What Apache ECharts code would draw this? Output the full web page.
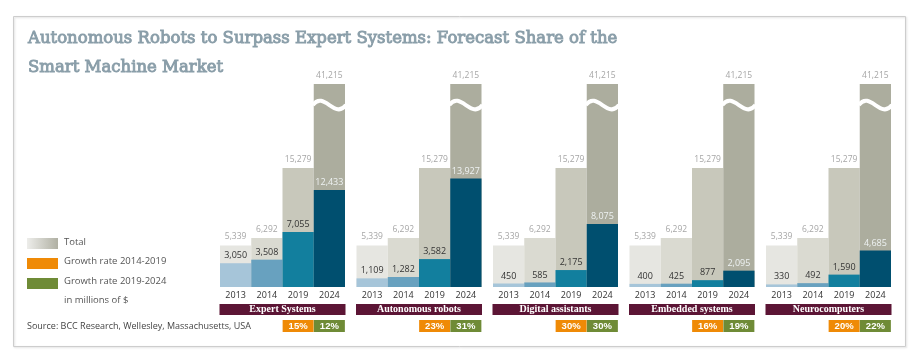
<!DOCTYPE html>
<html><head><meta charset="utf-8">
<script src="https://cdn.jsdelivr.net/npm/echarts@6/dist/echarts.min.js"></script>
<style>html,body{margin:0;padding:0;background:#fff}#c{width:916px;height:361px}</style>
</head><body><div id="c"></div><script>
// ---- data ----
const years = ['2013', '2014', '2019', '2024'];
const segments = ['Expert Systems', 'Autonomous robots', 'Digital assistants', 'Embedded systems', 'Neurocomputers'];
const totalMarket = [5339, 6292, 15279, 41215];
const expertSystems = [3050, 3508, 7055, 12433];
const autonomousRobots = [1109, 1282, 3582, 13927];
const digitalAssistants = [450, 585, 2175, 8075];
const embeddedSystems = [400, 425, 877, 2095];
const neurocomputers = [330, 492, 1590, 4685];
const growth2014_2019 = [15, 23, 30, 16, 20];
const growth2019_2024 = [12, 31, 30, 19, 22];
const axisBreak = [22700, 39165];

// ---- style ----
const segmentValues = [expertSystems, autonomousRobots, digitalAssistants, embeddedSystems, neurocomputers];
const totalColors = ['#e6e6e1', '#dadad1', '#c8c8bb', '#acad9e'];
const innerColors = ['#a6c5d9', '#68a1bf', '#127f9e', '#004f6f'];
const innerLabelColors = ['#333', '#333', '#333', '#eef2f2'];
const gridLefts = [220, 356.5, 493, 629.5, 766];
const fontSans = '"Open Sans", "Noto Sans", sans-serif';
const fmt = v => v.toLocaleString('en-US');

const grid = [], xAxis = [], yAxis = [], series = [];
segments.forEach((seg, i) => {
  grid.push({left: gridLefts[i], width: 125, top: 84, bottom: 74});
  xAxis.push({
    gridIndex: i, type: 'category', data: years,
    axisLine: {show: false}, axisTick: {show: false},
    axisLabel: {interval: 0, margin: 4, fontSize: 9, color: '#333', fontFamily: fontSans},
    name: '{h|' + seg + '}', nameLocation: 'middle', nameGap: 17, nameMoveOverlap: false,
    nameTextStyle: {rich: {h: {color: '#fff', fontFamily: '"Liberation Serif", serif', fontWeight: 'bold', fontSize: 10,
      backgroundColor: '#5c1535', width: 126, height: 11, lineHeight: 11, align: 'center', padding: 0}}}
  });
  yAxis.push({
    gridIndex: i, type: 'value', min: 0, max: 'dataMax', show: false,
    splitLine: {show: false},
    breaks: [{start: axisBreak[0], end: axisBreak[1], gap: '5%'}],
    breakArea: {show: false}
  });
  series.push({
    type: 'bar', xAxisIndex: i, yAxisIndex: i, barCategoryGap: '0%', barGap: '-100%',
    data: totalMarket.map((v, j) => ({value: v, itemStyle: {color: totalColors[j]}})),
    label: {show: true, position: 'top', distance: 4, color: '#a6a6a6', fontSize: 8.5, fontFamily: fontSans, formatter: p => fmt(p.value)}
  });
  series.push({
    type: 'bar', xAxisIndex: i, yAxisIndex: i, barCategoryGap: '0%', barGap: '-100%',
    data: segmentValues[i].map((v, j) => ({value: v, itemStyle: {color: innerColors[j]},
      label: {color: innerLabelColors[j]}})),
    label: {show: true, position: 'top', distance: 3, fontSize: 9, fontFamily: fontSans, formatter: p => fmt(p.value)}
  });
  series.push({
    type: 'custom', xAxisIndex: i, yAxisIndex: i, silent: true, z: 5,
    data: [[3, axisBreak[0], axisBreak[1]]],
    renderItem: (params, api) => {
      const lo = api.coord([api.value(0), api.value(1)]);
      const hi = api.coord([api.value(0), api.value(2)]);
      const w = api.size([1, 0])[0];
      const x0 = lo[0] - w / 2 - 1, x1 = lo[0] + w / 2 + 1;
      const yc = (lo[1] + hi[1]) / 2;
      return {type: 'bezierCurve',
        shape: {x1: x0, y1: yc, x2: x1, y2: yc, cpx1: x0 + (x1 - x0) / 3, cpy1: yc - 15, cpx2: x0 + 2 * (x1 - x0) / 3, cpy2: yc + 15},
        style: {stroke: '#fff', lineWidth: 4, fill: null}};
    }
  });
});
segments.forEach((seg, i) => {
  xAxis.push({
    gridIndex: i, type: 'category', data: years, position: 'bottom', offset: 30,
    axisLine: {show: false}, axisTick: {show: false},
    axisLabel: {interval: 0, margin: 3,
      formatter: (v, idx) => idx === 2 ? '{o|' + growth2014_2019[i] + '%}' : idx === 3 ? '{g|' + growth2019_2024[i] + '%}' : '',
      rich: {
        o: {backgroundColor: '#ef8a06', color: '#fff', width: 31, height: 12, lineHeight: 12, align: 'center', fontSize: 9.5, fontWeight: 'bold', fontFamily: '"Liberation Sans", sans-serif'},
        g: {backgroundColor: '#6f8b36', color: '#fff', width: 31, height: 12, lineHeight: 12, align: 'center', fontSize: 9.5, fontWeight: 'bold', fontFamily: '"Liberation Sans", sans-serif'}
      }}
  });
});

const legendText = (y, t) => ({type: 'text', left: 64, top: y, style: {text: t, fill: '#555', font: '9.5px ' + fontSans}});
const option = {
  animation: false,
  backgroundColor: '#fff',
  title: {
    text: 'Autonomous Robots to Surpass Expert Systems: Forecast Share of the\nSmart Machine Market',
    left: 28, top: 24, padding: 0,
    textStyle: {fontFamily: '"DejaVu Serif", serif', fontSize: 16.5, fontWeight: 'normal', color: '#8a9ea9',
      lineHeight: 29, textBorderColor: '#8a9ea9', textBorderWidth: 0.9}
  },
  grid, xAxis, yAxis, series,
  graphic: [
    {type: 'rect', shape: {x: 13.5, y: 16.5, width: 892, height: 330}, silent: true,
      style: {fill: null, stroke: '#cdcdcd', lineWidth: 1, shadowBlur: 2, shadowOffsetX: 1, shadowOffsetY: 1, shadowColor: 'rgba(0,0,0,0.15)'}},
    {type: 'rect', shape: {x: 27, y: 238, width: 31, height: 11},
      style: {fill: {type: 'linear', x: 0, y: 0, x2: 1, y2: 0, colorStops: [{offset: 0, color: '#ededea'}, {offset: 1, color: '#b0b0a3'}]}}},
    {type: 'rect', shape: {x: 27, y: 258, width: 31, height: 11}, style: {fill: '#ef8a06'}},
    {type: 'rect', shape: {x: 27, y: 278, width: 31, height: 11}, style: {fill: '#6f8b36'}},
    legendText(237, 'Total'),
    legendText(256.5, 'Growth rate 2014-2019'),
    legendText(276.5, 'Growth rate 2019-2024'),
    legendText(295, 'in millions of $'),
    {type: 'text', left: 27, top: 322, style: {text: 'Source: BCC Research, Wellesley, Massachusetts, USA', fill: '#444', font: '9px ' + fontSans}}
  ]
};
echarts.init(document.getElementById('c')).setOption(option);
</script></body></html>
